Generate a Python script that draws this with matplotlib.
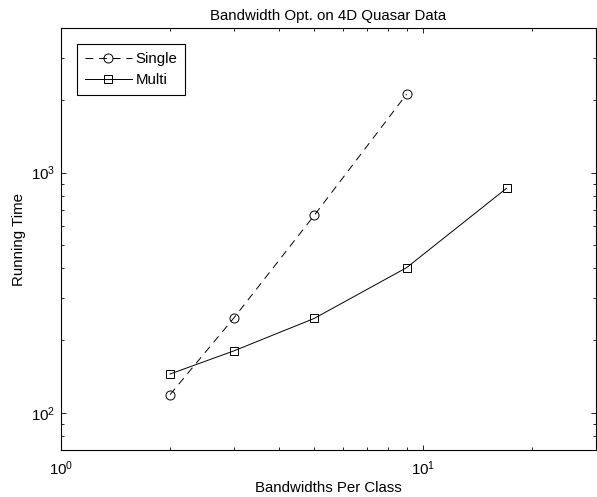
import matplotlib
matplotlib.use('Agg')
import matplotlib.pyplot as plt
from matplotlib.ticker import LogLocator, NullFormatter

plt.rcParams['font.family'] = ['Liberation Sans', 'DejaVu Sans']
plt.rcParams['mathtext.fontset'] = 'custom'
plt.rcParams['mathtext.rm'] = 'Liberation Sans'
plt.rcParams['mathtext.it'] = 'Liberation Sans'
plt.rcParams['mathtext.default'] = 'regular'

# valores
bw_single = [2, 3, 5, 9]
t_single = [119, 248, 663, 2120]
bw_multi = [2, 3, 5, 9, 17]
t_multi = [145, 181, 247, 402, 861]

fs = 10.8

fig = plt.figure(figsize=(5.97, 4.97), dpi=100)
ax = fig.add_axes([0.1022, 0.0946, 0.896, 0.849])

ax.loglog(bw_single, t_single, 'k--o', mfc='none', ms=6.5, lw=0.7,
          mew=0.7, dashes=(8, 6), label='Single')
ax.loglog(bw_multi, t_multi, 'k-s', mfc='none', ms=6, lw=0.7,
          mew=0.7, label='Multi')

ax.set_xlim(1, 30)
ax.set_ylim(70, 4000)

ax.xaxis.set_minor_locator(LogLocator(base=10, subs=range(2, 10)))
ax.yaxis.set_minor_locator(LogLocator(base=10, subs=range(2, 10)))
ax.xaxis.set_minor_formatter(NullFormatter())
ax.yaxis.set_minor_formatter(NullFormatter())
ax.tick_params(which='both', direction='in', top=True, right=True,
               labelsize=fs, width=0.6)
ax.tick_params(which='major', length=3.5)
ax.tick_params(which='minor', length=2)
ax.tick_params(axis='x', pad=7)
ax.tick_params(axis='y', pad=4)
for s in ax.spines.values():
    s.set_linewidth(0.8)

ax.set_title('Bandwidth Opt. on 4D Quasar Data', fontsize=fs, pad=6)
ax.set_xlabel('Bandwidths Per Class', fontsize=fs, labelpad=2)
ax.set_ylabel('Running Time', fontsize=fs, labelpad=4)

leg = ax.legend(loc='upper left', fontsize=fs, handlelength=3.1,
                handletextpad=0.25, borderaxespad=1.05, fancybox=False,
                edgecolor='k', framealpha=1, borderpad=0.55, labelspacing=0.45)
leg.get_frame().set_linewidth(0.8)

fig.savefig('out.png', dpi=100)
